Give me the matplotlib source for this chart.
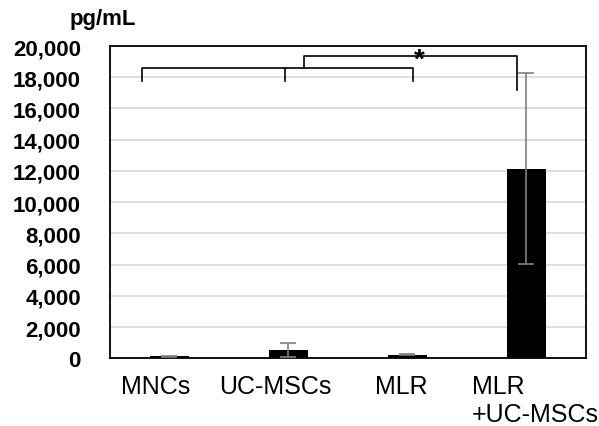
import matplotlib
matplotlib.use("Agg")
from matplotlib import pyplot as plt
from matplotlib.ticker import FuncFormatter

plt.rcParams['font.family'] = ['Liberation Sans', 'DejaVu Sans']

# Data
groups = ["MNCs", "UC-MSCs", "MLR", "MLR\n+UC-MSCs"]
means = [120, 530, 240, 12150]
sds = [20, 460, 50, 6100]
yticks = list(range(0, 20001, 2000))

fig = plt.figure(figsize=(5.99, 4.27), dpi=100)
ax = fig.add_axes([0.1836, 0.1585, 0.7947, 0.7314])

x = list(range(len(groups)))
ax.bar(x, means, width=0.32, color="black", zorder=3)
ax.errorbar(x, means, yerr=sds, fmt="none", ecolor="#808080",
            elinewidth=1.2, capsize=6, capthick=1.2, zorder=4)

ax.set_xlim(-0.5, 3.5)
ax.set_ylim(0, 20000)
ax.set_yticks(yticks)
ax.yaxis.set_major_formatter(FuncFormatter(lambda v, p: f"{int(v):,}"))
ax.tick_params(axis="y", length=0, pad=21, labelsize=16)
for lab in ax.get_yticklabels():
    lab.set_fontweight("bold")
ax.grid(axis="y", color="#d9d9d9", linewidth=1.2, zorder=0)
ax.set_axisbelow(True)

# category labels, slightly offset as in the original
ax.set_xticks([-0.12, 0.89, 1.95, 2.54])
ax.set_xticklabels(groups, fontsize=18)
ax.tick_params(axis="x", length=0, pad=11)
for lab in ax.get_xticklabels():
    lab.set_linespacing(1.25)
ax.get_xticklabels()[3].set_horizontalalignment("left")
ax.get_xticklabels()[3].set_multialignment("left")

for s in ax.spines.values():
    s.set_linewidth(1.3)
    s.set_color("black")

# significance brackets
lw = 1.2
ax.plot([-0.234, -0.234, 2.044, 2.044], [17740, 18570, 18570, 17740], color="black", lw=lw, zorder=5)
ax.plot([0.973, 0.973], [18570, 17740], color="black", lw=lw, zorder=5)
ax.plot([1.133, 1.133, 2.918, 2.918], [18570, 19380, 19380, 17180], color="black", lw=lw, zorder=5)
ax.text(2.097, 19950, "*", ha="center", va="top", fontsize=20, fontweight="bold", zorder=6)

fig.text(103 / 599, 1 - 20 / 427, "pg/mL", ha="center", va="center",
         fontsize=16, fontweight="bold")

fig.savefig("out.png", dpi=100)
